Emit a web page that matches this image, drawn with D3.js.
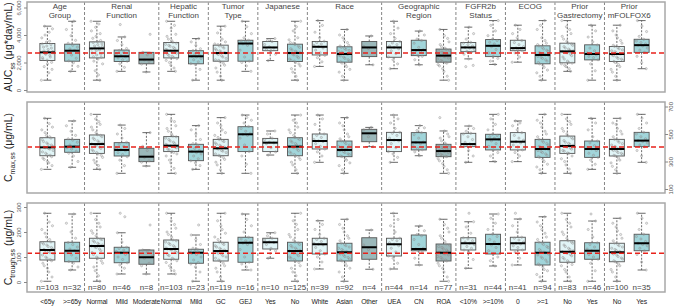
<!DOCTYPE html>
<html><head><meta charset="utf-8">
<script src="https://cdn.jsdelivr.net/npm/d3@7"></script>
<style>body{margin:0;background:#fff}svg{display:block;font-family:"Liberation Sans",Arial,sans-serif}</style>
</head><body><svg id="c" width="677" height="307"></svg>
<script>
const categories = ["<65y", ">=65y", "Normal", "Mild", "Moderate", "Normal", "Mild", "GC", "GEJ", "Yes", "No", "White", "Asian", "Other", "UEA", "CN", "ROA", "<10%", ">=10%", "0", ">=1", "No", "Yes", "No", "Yes"];
const groupOf = [0,0,1,1,1,2,2,3,3,4,4,5,5,5,6,6,6,7,7,8,8,9,9,10,10];
const shadeOf = [0,1,0,1,2,0,1,0,1,0,1,0,1,2,0,1,2,0,1,0,1,0,1,0,1];
const groupTitles = [["Age","Group"],["Renal","Function"],["Hepatic","Function"],["Tumor","Type"],["Japanese"],["Race"],["Geographic","Region"],["FGFR2b","Status"],["ECOG"],["Prior","Gastrectomy"],["Prior","mFOLFOX6"]];
const nCounts = [103,32,80,46,8,103,23,119,16,10,125,39,92,4,44,14,77,31,44,41,94,83,46,100,35];

// box stats: [lower whisker, Q1, median, Q3, upper whisker]
const aucStats = [[714,2143,2738,3381,4643],[1357,2095,2857,3333,5000],[714,2333,3024,3500,5000],[1357,2071,2452,2905,3857],[1310,1905,2214,2738,2738],[1357,2333,2857,3452,5000],[714,1905,2452,2857,3738],[714,2095,2690,3262,4643],[1357,2095,3381,3619,5000],[2143,2857,3095,3524,3738],[714,2071,2690,3333,5000],[1714,2548,3143,3524,5048],[714,2024,2619,3143,4405],[1833,2429,3095,3524,3929],[1548,2381,3095,3524,5000],[1833,2500,2905,3619,4286],[714,2024,2500,2976,4405],[2262,2786,3095,3452,4571],[1857,2429,3214,3667,5048],[2024,2857,3048,3619,4714],[714,1905,2548,3214,5048],[1357,1976,2810,3405,5048],[714,2190,2619,3286,4714],[714,2071,2619,3167,4714],[1548,2738,3262,3690,5048]];
const cmaxStats = [[243,342,403,473,614],[258,367,408,461,595],[243,359,427,493,643],[214,340,384,437,565],[267,299,335,396,510],[214,372,415,481,643],[243,306,372,425,561],[214,342,396,461,619],[214,372,498,553,638],[347,372,437,468,522],[214,342,408,473,638],[294,391,449,500,638],[214,335,384,449,619],[408,444,505,534,548],[294,372,456,512,638],[342,384,439,510,561],[214,335,376,425,522],[294,408,427,505,558],[299,384,461,498,643],[299,384,444,510,595],[214,330,391,461,643],[214,359,413,485,643],[243,330,391,449,614],[214,340,391,461,614],[294,408,452,512,643]];
const ctroughStats = [[3,88,128,161,275],[48,81,125,159,272],[3,95,144,175,275],[32,77,117,139,197],[32,71,99,128,128],[32,91,132,168,275],[3,75,117,131,188],[3,84,124,159,275],[48,79,157,179,272],[95,132,159,175,197],[3,84,124,159,275],[52,112,151,175,245],[3,84,119,155,251],[51,91,139,177,208],[52,104,151,175,275],[68,125,132,188,224],[3,84,117,152,251],[55,128,155,177,241],[64,112,152,191,272],[68,128,155,179,252],[3,68,117,159,261],[3,79,121,165,275],[3,91,125,157,244],[3,81,119,155,255],[48,125,155,191,275]];

const aucPoints = [
[710,1250,1700,2010,2180,2350,2520,2660,2800,2950,3120,3300,3480,3790,4200,4640],
[1360,1720,1980,2120,2310,2540,2760,2880,2990,3120,3250,3400,3610,3950,4400,5000],
[710,1400,1900,2250,2420,2600,2850,2980,3080,3200,3350,3520,3760,4100,4560,5000],
[1360,1650,1900,2090,2200,2330,2410,2500,2610,2750,2880,3020,3300,3600,3860,4760],
[1310,1880,2050,2180,2250,2560,2740,4050],
[1360,1800,2150,2350,2500,2680,2800,2900,3020,3180,3320,3470,3700,4050,4500,5000],
[714,1500,1850,1920,2050,2200,2300,2400,2450,2520,2600,2700,2800,2870,3000,3250,3500,3740],
[710,1300,1800,2050,2200,2400,2580,2680,2760,2900,3050,3200,3350,3700,4150,4640],
[1360,1750,2000,2100,2400,2900,3250,3350,3420,3500,3560,3620,3800,4100,4600,5000],
[2140,2600,2860,2950,3050,3140,3300,3520,3600,3740],
[710,1300,1750,2000,2150,2350,2550,2680,2750,2900,3100,3300,3450,3800,4300,5000],
[1710,2050,2350,2520,2700,2900,3050,3150,3250,3350,3450,3550,3800,4200,4700,5050],
[710,1300,1700,1950,2100,2300,2480,2600,2680,2800,2950,3100,3250,3600,4000,4400],
[1830,3020,3170,3930],
[1550,1900,2200,2400,2650,2850,3000,3100,3200,3300,3420,3520,3750,4100,4500,5000],
[1830,2200,2450,2520,2650,2800,2880,2930,3100,3400,3600,3700,4000,4290],
[710,1350,1750,1950,2080,2250,2400,2480,2560,2680,2820,2960,3150,3500,3950,4400],
[1700,1790,2260,2600,2750,2820,2950,3050,3100,3200,3300,3400,3470,3700,4100,4570],
[1860,2100,2300,2450,2700,2950,3150,3230,3350,3480,3600,3700,3950,4300,4700,5050],
[2020,2400,2700,2850,2920,2990,3030,3060,3150,3300,3450,3600,3800,4100,4400,4710],
[710,1250,1650,1900,2100,2300,2450,2550,2650,2800,3000,3200,3400,3800,4400,5050],
[1360,1700,1900,2000,2250,2500,2700,2800,2900,3050,3250,3400,3700,4100,4600,5050],
[710,1400,1900,2200,2350,2450,2550,2620,2700,2850,3050,3280,3500,3850,4300,4710],
[710,1300,1700,2000,2150,2300,2500,2620,2700,2850,3000,3170,3400,3800,4300,4710],
[1550,2000,2450,2740,2900,3050,3200,3260,3350,3450,3560,3690,3900,4250,4650,5050]];
const aucPointsMore = [
[1500,1900,2250,2400,2600,2700,2780,2850,3050,3200,3350,3550,4000,4450],[],
[1100,2100,2380,2550,2700,2920,3050,3150,3300,3450,3600,3900,4300,4800],[],[],
[1600,2000,2280,2450,2600,2750,2850,2950,3100,3250,3400,3600,3900,4700],[],
[1000,1600,1950,2150,2300,2500,2650,2720,2850,3000,3150,3300,3500,4400],[],[],
[1000,1550,1900,2100,2250,2450,2620,2720,2820,3000,3200,3400,3650,4600],[],
[1000,1500,1850,2050,2200,2400,2550,2650,2750,2880,3020,3200,3450,3800],[],[],[],
[1000,1550,1850,2000,2150,2320,2450,2530,2620,2750,2900,3050,3300,3750],[],[],[],
[1000,1450,1800,2000,2200,2380,2500,2600,2720,2900,3100,3300,3600,4700],
[1550,1800,1950,2100,2400,2600,2750,2850,2980,3150,3350,3550,3900,4400],[],
[1000,1500,1850,2080,2250,2400,2560,2650,2780,2920,3080,3250,3600,4000],[]];

const cmaxPoints = [
[243,290,315,335,350,370,390,400,410,425,445,470,490,530,575,614],
[258,300,340,360,375,390,400,410,420,440,455,465,490,520,560,595],
[243,290,330,355,375,395,415,428,440,460,480,495,530,570,610,643],
[214,270,310,335,350,365,378,385,395,410,425,440,470,500,540,565],
[267,295,305,330,340,380,410,510],
[214,290,340,365,385,400,410,418,430,450,470,485,520,560,600,643],
[243,270,290,305,320,340,355,365,372,380,395,410,420,430,460,500,530,561],
[214,275,315,340,355,375,390,398,410,425,445,460,490,530,580,619],
[214,280,340,372,420,470,490,497,505,520,540,555,580,600,620,638],
[347,370,400,430,435,440,460,470,500,522],
[214,275,315,340,360,380,400,408,420,440,460,475,510,550,600,638],
[294,340,370,390,410,430,445,450,460,475,490,500,530,570,610,638],
[214,270,310,335,350,365,380,385,395,410,430,450,480,530,580,619],
[408,480,530,548],
[294,330,355,372,400,430,450,456,470,490,505,512,540,580,610,638],
[342,370,385,395,415,430,438,442,470,495,510,525,545,561],
[214,265,305,335,345,360,372,378,385,395,410,425,450,480,522,619],
[294,340,380,408,415,420,425,428,440,460,480,500,505,520,540,558],
[299,340,365,384,410,430,450,461,470,480,490,498,530,570,610,643],
[299,340,365,384,405,420,435,444,455,470,490,510,530,560,580,595],
[214,260,300,330,345,365,380,391,400,420,440,461,500,550,600,643],
[214,275,320,359,375,390,405,413,425,440,465,485,520,570,610,643],
[243,280,310,330,345,360,380,391,400,415,435,449,480,530,580,614],
[214,265,310,340,350,365,380,391,400,420,440,461,500,540,580,614],
[294,340,380,408,420,435,445,452,465,480,500,512,540,580,615,643]];
const cmaxPointsMore = [
[270,300,325,345,360,380,395,405,420,435,460,480,510,550],[],
[270,310,345,365,385,405,420,432,450,470,490,510,550,590],[],[],
[250,310,355,375,390,405,415,425,440,460,480,500,540,590],[],
[240,295,330,345,365,380,395,405,418,435,452,475,510,560],[],[],
[240,295,330,350,370,390,405,412,430,450,468,490,530,580],[],
[240,290,320,340,355,372,383,390,402,420,440,465,500,560],[],[],[],
[240,285,320,338,350,365,375,380,390,402,415,435,470,500],[],[],[],
[240,280,315,335,355,372,386,395,410,430,450,480,520,580],
[245,300,340,362,380,398,410,418,432,452,475,500,540,590],[],
[240,290,325,345,360,375,388,395,410,430,450,480,520,570],[]];

const ctroughPoints = [
[3,40,65,85,95,108,118,126,132,142,152,160,180,210,240,275],
[48,60,75,82,95,108,118,125,132,140,150,158,175,200,235,272],
[3,45,75,95,110,125,138,144,150,160,170,175,195,220,250,275],
[32,55,68,77,90,100,110,117,122,128,134,139,160,197,261,275],
[32,65,75,95,102,120,128,228],
[32,55,78,91,105,118,128,132,140,150,160,168,190,215,245,275],
[3,40,60,72,78,88,100,110,115,118,122,126,130,135,150,170,188,228],
[3,40,65,84,95,105,115,124,130,140,150,159,180,210,245,275],
[48,60,72,79,100,130,150,155,160,165,172,179,200,225,250,272],
[95,125,135,150,158,160,168,175,185,197],
[3,40,65,84,95,105,115,124,130,140,150,159,180,210,245,275],
[52,80,100,112,125,138,148,151,155,162,170,175,190,210,230,245],
[3,40,65,84,92,102,112,119,125,135,145,155,175,200,230,251],
[51,130,148,208],
[52,75,95,104,120,135,145,151,157,165,170,175,200,225,250,275],
[68,95,120,126,128,130,132,135,150,170,185,190,205,224],
[3,40,65,84,92,102,112,117,122,132,142,152,175,200,230,251],
[55,90,120,128,135,142,150,155,160,165,172,177,195,220,241,275],
[64,85,100,112,125,138,148,152,160,170,182,191,210,235,255,272],
[68,95,120,128,138,145,152,155,160,168,175,179,200,225,252,275],
[3,30,50,68,80,95,108,117,125,138,150,159,180,210,240,261],
[3,40,65,79,92,105,115,121,130,142,155,165,190,220,250,275],
[3,45,75,91,100,110,118,125,132,140,150,157,180,210,244,272],
[3,40,65,81,92,102,112,119,126,135,145,155,175,205,235,255],
[48,80,110,125,135,145,150,155,162,172,182,191,210,235,255,275]];
const ctroughPointsMore = [
[20,55,75,90,100,115,122,130,138,148,158,170,195,225],[],
[25,60,85,100,118,132,140,148,155,165,172,185,205,235],[],[],
[45,65,85,95,110,122,130,136,145,155,165,180,200,230],[],
[20,55,75,88,100,112,120,128,135,145,155,170,195,225],[],[],
[25,55,78,90,100,112,120,127,136,146,156,168,190,230],[],
[20,55,75,88,98,108,116,122,130,140,150,165,185,215],[],[],[],
[20,55,75,88,98,108,114,120,128,138,148,162,185,215],[],[],[],
[20,45,60,72,88,100,112,120,130,142,155,170,195,225],
[20,50,70,85,98,110,118,125,135,148,160,175,200,235],[],
[20,50,72,85,96,108,116,122,130,140,150,165,190,220],[]];

const aucRef = 2700, cmaxRef = 405, ctroughRef = 115;
const aucTicks = [0,2000,4000,6000];
const cmaxTicks = [100,300,500,700];
const ctroughTicks = [0,100,200,300];

const svg = d3.select("#c");
const L = 27, R = 665;
const shades = ["#e1f5f7", "#a1d5da", "#9bb8ba"];
const x = d3.scaleBand().domain(d3.range(categories.length)).range([35, 654]);
const bw = 15;

const panels = [
  {top:2, bottom:92, y:d3.scaleLinear().domain([0,6000]).range([90,7.5]), stats:aucStats, pts:aucPoints.map((a,i)=>a.concat(aucPointsMore[i])), ref:aucRef, ticks:aucTicks, side:"left", title:["AUC","ss"," (\u03bcg*day/mL)"]},
  {top:102, bottom:193, y:d3.scaleLinear().domain([100,700]).range([189,106.5]), stats:cmaxStats, pts:cmaxPoints.map((a,i)=>a.concat(cmaxPointsMore[i])), ref:cmaxRef, ticks:cmaxTicks, side:"right", title:["C","max,ss"," (\u03bcg/mL)"]},
  {top:203, bottom:292, y:d3.scaleLinear().domain([0,300]).range([282,207]), stats:ctroughStats, pts:ctroughPoints.map((a,i)=>a.concat(ctroughPointsMore[i])), ref:ctroughRef, ticks:ctroughTicks, side:"left", title:["C","trough,ss"," (\u03bcg/mL)"]}
];

const boundaries = [];
for (let i = 1; i < categories.length; i++) if (groupOf[i] !== groupOf[i-1]) boundaries.push(i);

panels.forEach((p, pi) => {
  const g = svg.append("g");
  boundaries.forEach(b => {
    g.append("line").attr("x1", x(b)).attr("x2", x(b)).attr("y1", p.top).attr("y2", p.bottom)
      .attr("stroke", "#777").attr("stroke-width", 0.9).attr("stroke-dasharray", "3,2");
  });
  p.stats.forEach((s, ci) => {
    const cx = x(ci) + x.bandwidth()/2;
    const [lo, q1, md, q3, hi] = s.map(p.y);
    g.append("line").attr("x1", cx).attr("x2", cx).attr("y1", q3).attr("y2", hi)
      .attr("stroke", "#444").attr("stroke-width", 0.8).attr("stroke-dasharray", "2,1.5");
    g.append("line").attr("x1", cx).attr("x2", cx).attr("y1", q1).attr("y2", lo)
      .attr("stroke", "#444").attr("stroke-width", 0.8).attr("stroke-dasharray", "2,1.5");
    [lo, hi].forEach(yy => g.append("line").attr("x1", cx-4).attr("x2", cx+4).attr("y1", yy).attr("y2", yy)
      .attr("stroke", "#444").attr("stroke-width", 0.8));
    g.append("rect").attr("x", cx - bw/2).attr("y", q3).attr("width", bw).attr("height", Math.max(0.5, q1 - q3))
      .attr("fill", shades[shadeOf[ci]]).attr("stroke", "#555").attr("stroke-width", 0.9);
  });
  p.pts.forEach((arr, ci) => {
    const cx = x(ci) + x.bandwidth()/2;
    arr.forEach((v, k) => {
      const off = (((k * 0.618034 + ci * 0.37) % 1) - 0.5) * 12;
      g.append("circle").attr("cx", cx + off).attr("cy", p.y(v)).attr("r", 1.1)
        .attr("fill", "#aaa").attr("fill-opacity", 0.25).attr("stroke", "#888").attr("stroke-width", 0.5).attr("stroke-opacity", 0.8);
    });
  });
  p.stats.forEach((s, ci) => {
    const cx = x(ci) + x.bandwidth()/2;
    g.append("line").attr("x1", cx - bw/2).attr("x2", cx + bw/2).attr("y1", p.y(s[2])).attr("y2", p.y(s[2]))
      .attr("stroke", "#000").attr("stroke-width", 2);
  });
  g.append("line").attr("x1", L).attr("x2", R).attr("y1", p.y(p.ref)).attr("y2", p.y(p.ref))
    .attr("stroke", "#e8221b").attr("stroke-width", 1.5).attr("stroke-dasharray", "5,3");
  g.append("rect").attr("x", L).attr("y", p.top).attr("width", R - L).attr("height", p.bottom - p.top)
    .attr("fill", "none").attr("stroke", "#a8a8a8").attr("stroke-width", 1.5);
  const ax = p.side === "left" ? d3.axisLeft(p.y) : d3.axisRight(p.y);
  ax.tickValues(p.ticks).tickSize(3).tickSizeOuter(0);
  const ag = g.append("g").attr("transform", `translate(${p.side === "left" ? L : R},0)`).call(ax);
  ag.select(".domain").remove();
  ag.selectAll(".tick line").attr("stroke", "#888");
  ag.selectAll(".tick text").attr("font-size", 6).attr("fill", "#555")
    .attr("text-anchor", "middle").attr("dy", 0)
    .attr("transform", p.side === "left" ? "translate(-8,0) rotate(-90)" : "translate(-2,0) rotate(-90)")
    .attr("x", 0).attr("y", p.side === "left" ? 2 : 10);
  const ty = (p.top + p.bottom)/2;
  const t = svg.append("text").attr("transform", `translate(12,${ty}) rotate(-90)`)
    .attr("text-anchor", "middle").attr("font-size", 10.5).attr("fill", "#222");
  t.append("tspan").text(p.title[0]);
  t.append("tspan").text(p.title[1]).attr("font-size", 7).attr("dy", 2.5);
  t.append("tspan").text(p.title[2]).attr("dy", -2.5);
});

groupTitles.forEach((lines, gi) => {
  const idx = d3.range(categories.length).filter(i => groupOf[i] === gi);
  const cx = (x(idx[0]) + x(idx[idx.length-1]) + x.bandwidth())/2;
  lines.forEach((ln, li) => {
    svg.append("text").attr("x", cx).attr("y", 9 + li * 8.5).attr("text-anchor", "middle")
      .attr("font-size", 8).attr("fill", "#444").text(ln);
  });
});

categories.forEach((c, ci) => {
  const cx = x(ci) + x.bandwidth()/2;
  svg.append("text").attr("x", cx).attr("y", 290).attr("text-anchor", "middle")
    .attr("font-size", 8).attr("fill", "#444").text("n=" + nCounts[ci]);
  svg.append("text").attr("x", cx).attr("y", 304).attr("text-anchor", "middle")
    .attr("font-size", 6.8).attr("letter-spacing", -0.15).attr("fill", "#222").text(c);
});
</script></body></html>
